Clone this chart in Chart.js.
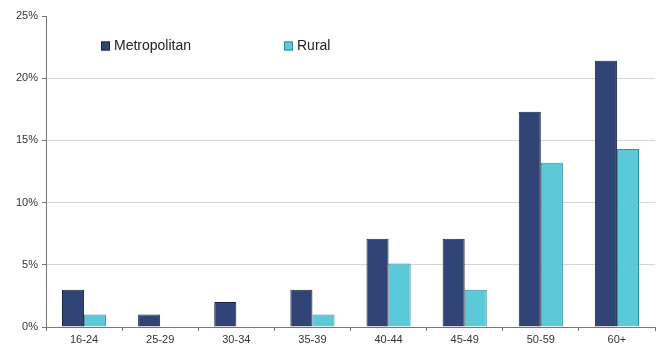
<!DOCTYPE html>
<html>
<head>
<meta charset="utf-8">
<script src="https://cdn.jsdelivr.net/npm/chart.js@4"></script>
<style>
  html, body { margin: 0; padding: 0; background: #fff; }
  #wrap { width: 661px; height: 351px; }
</style>
</head>
<body>
<div id="wrap"><canvas id="c" width="661" height="351"></canvas></div>
<script>
// Age groups
const ageGroups = ['16-24', '25-29', '30-34', '35-39', '40-44', '45-49', '50-59', '60+'];
// Share of respondents by area (%)
const metropolitan = [3, 1, 2, 3, 7.1, 7.1, 17.3, 21.4];
const rural = [1, 0, 0, 1, 5.1, 3.0, 13.2, 14.3];
// Y axis ticks (%)
const yTicks = [0, 5, 10, 15, 20, 25];

const FONT = 'Liberation Sans, Arial, sans-serif';

// Legend drawn inside the plot area, near its top-left corner
const insideLegend = {
  id: 'insideLegend',
  afterDraw(chart) {
    const ctx = chart.ctx;
    const items = [
      { ds: chart.data.datasets[0], x: 101 },
      { ds: chart.data.datasets[1], x: 284 }
    ];
    const y = 46;
    ctx.save();
    ctx.font = '14px ' + FONT;
    ctx.textBaseline = 'middle';
    items.forEach(it => {
      ctx.fillStyle = it.ds.backgroundColor;
      ctx.strokeStyle = it.ds.borderColor;
      ctx.lineWidth = 1;
      ctx.fillRect(it.x, y - 4.5, 9, 9);
      ctx.strokeRect(it.x + 0.5, y - 4, 8, 8);
      ctx.fillStyle = '#222';
      ctx.fillText(it.ds.label, it.x + 13, y);
    });
    ctx.restore();
  }
};

new Chart(document.getElementById('c'), {
  type: 'bar',
  data: {
    labels: ageGroups,
    datasets: [
      {
        label: 'Metropolitan',
        data: metropolitan,
        backgroundColor: '#314476',
        borderColor: '#1a2440',
        borderWidth: 1,
        borderSkipped: 'bottom'
      },
      {
        label: 'Rural',
        data: rural,
        backgroundColor: '#5bc9d8',
        borderColor: '#2f8e98',
        borderWidth: 1,
        borderSkipped: 'bottom'
      }
    ]
  },
  options: {
    responsive: false,
    animation: false,
    layout: { padding: { top: 16, right: 6, left: 0, bottom: 0 } },
    datasets: { bar: { categoryPercentage: 0.58, barPercentage: 1.0 } },
    plugins: {
      legend: { display: false },
      tooltip: { enabled: false }
    },
    scales: {
      x: {
        afterFit(scale) { scale.height = 24; },
        grid: {
          offset: true,
          drawOnChartArea: false,
          drawTicks: true,
          tickLength: 4,
          tickColor: '#777'
        },
        border: { color: '#777', width: 1 },
        ticks: {
          color: '#333',
          font: { family: FONT, size: 11 },
          padding: 2
        }
      },
      y: {
        min: 0,
        max: 25,
        afterFit(scale) { scale.width = 46; },
        afterBuildTicks(scale) { scale.ticks = yTicks.map(v => ({ value: v })); },
        grid: {
          color: ctx => (ctx.tick && (ctx.tick.value === 0 || ctx.tick.value === 25)) ? 'rgba(0,0,0,0)' : '#d6d6d6',
          tickColor: '#777',
          tickLength: 4,
          lineWidth: 1
        },
        border: { color: '#777', width: 1 },
        ticks: {
          color: '#333',
          font: { family: FONT, size: 11 },
          padding: 4,
          callback: v => v + '%'
        }
      }
    }
  },
  plugins: [insideLegend]
});
</script>
</body>
</html>
